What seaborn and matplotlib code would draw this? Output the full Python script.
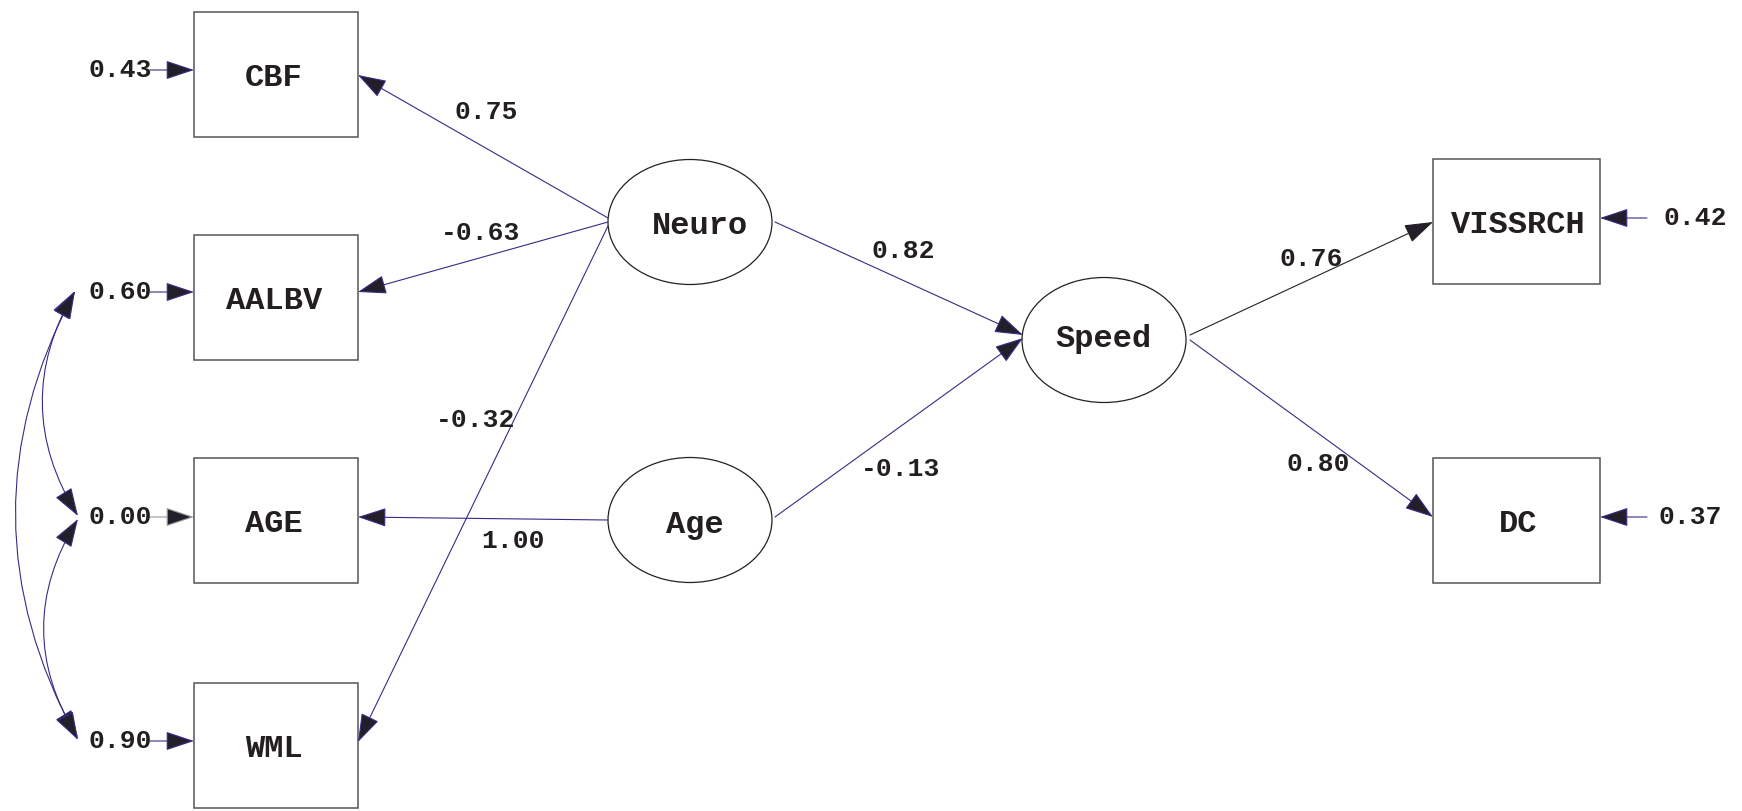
"""Path diagram: Neuro / Age -> Speed, standardized estimates."""

import matplotlib.pyplot as plt
import seaborn as sns
from matplotlib.patches import Rectangle, Ellipse, FancyArrowPatch

# --- values ---
left_vars = ["CBF", "AALBV", "AGE", "WML"]
left_resid = ["0.43", "0.60", "0.00", "0.90"]
right_vars = ["VISSRCH", "DC"]
right_resid = ["0.42", "0.37"]
latents = ["Neuro", "Age", "Speed"]
neuro_loadings = ["0.75", "-0.63", "-0.32"]   # CBF, AALBV, WML
age_loading = "1.00"                          # AGE
speed_paths = ["0.82", "-0.13"]               # Neuro, Age
speed_loadings = ["0.76", "0.80"]             # VISSRCH, DC

# --- layout (pixel space of the 1742x811 canvas) ---
left_box_y = [74, 297, 520, 745]
right_box_y = [221, 520]
latent_xy = {"Neuro": (690, 222), "Age": (690, 520), "Speed": (1104, 340)}

LINE = "#3b2a86"
HEAD = "#231f2a"
FONT = ["Liberation Mono", "DejaVu Sans Mono"]

sns.set_style("white")
plt.rcParams["font.family"] = FONT

fig = plt.figure(figsize=(17.42, 8.11), dpi=100)
ax = fig.add_axes([0, 0, 1, 1])
ax.set_xlim(0, 1742)
ax.set_ylim(811, 0)
ax.axis("off")


def arrow(p0, p1, color=LINE, style="-|>", rad=0.0):
    a = FancyArrowPatch(p0, p1, arrowstyle=f"{style},head_length=0.9,head_width=0.3",
                        mutation_scale=20, shrinkA=0, shrinkB=0, lw=0.8,
                        color=color, connectionstyle=f"arc3,rad={rad}")
    a.set_facecolor(HEAD)
    a.set_edgecolor(color)
    ax.add_patch(a)


def label(x, y, s, size=19):
    ax.text(x, y, s, ha="center", va="center", fontsize=size,
            fontweight="bold", color="#231f20")


# observed boxes on the left
for name, yc in zip(left_vars, left_box_y):
    ax.add_patch(Rectangle((194, yc - 62), 164, 125, fill=False,
                           ec="#555555", lw=1.1))
    label(274, yc + 4, name, size=23)

for name, yc in zip(right_vars, right_box_y):
    ax.add_patch(Rectangle((1433, yc - 62), 167, 125, fill=False,
                           ec="#555555", lw=1.1))
    label(1518, yc + 4, name, size=23)

# latent ellipses
for name in latents:
    x, y = latent_xy[name]
    ax.add_patch(Ellipse((x, y), 164, 125, fill=False, ec="#222222", lw=0.9))
label(700, 226, "Neuro", size=23)
label(695, 525, "Age", size=23)
label(1104, 339, "Speed", size=23)

# residual arrows
arrow_y_left = [70, 292, 517, 741]
for val, yy in zip(left_resid, arrow_y_left):
    col = "#9a9a9a" if val == "0.00" else LINE
    arrow((150, yy), (194, yy), color=col)
    label(120, yy, val)

arrow_y_right = [218, 517]
for val, yy, xx in zip(right_resid, arrow_y_right, [1695, 1690]):
    arrow((1647, yy), (1600, yy))
    label(xx, yy, val)

# covariances among residuals
arrow((75, 291), (78, 516), style="<|-|>", rad=0.3)
arrow((78, 519), (78, 738), style="<|-|>", rad=0.31)
arrow((75, 291), (78, 740), style="<|-|>", rad=0.27)

# Neuro loadings
arrow((608, 218), (358, 75))
arrow((608, 222), (358, 292))
arrow((608, 226), (358, 742))
label(486, 112, neuro_loadings[0])
label(481, 233, neuro_loadings[1])
label(476, 420, neuro_loadings[2])

# Age loading
arrow((608, 520), (358, 517))
label(513, 541, age_loading)

# structural paths
arrow((775, 222), (1023, 335))
arrow((775, 517), (1023, 338))
label(903, 251, speed_paths[0])
label(901, 469, speed_paths[1])

# Speed loadings
arrow((1190, 335), (1433, 222), color="#222222")
arrow((1190, 340), (1433, 517))
label(1311, 259, speed_loadings[0])
label(1318, 464, speed_loadings[1])

fig.savefig("out.png", dpi=100)
plt.close(fig)
